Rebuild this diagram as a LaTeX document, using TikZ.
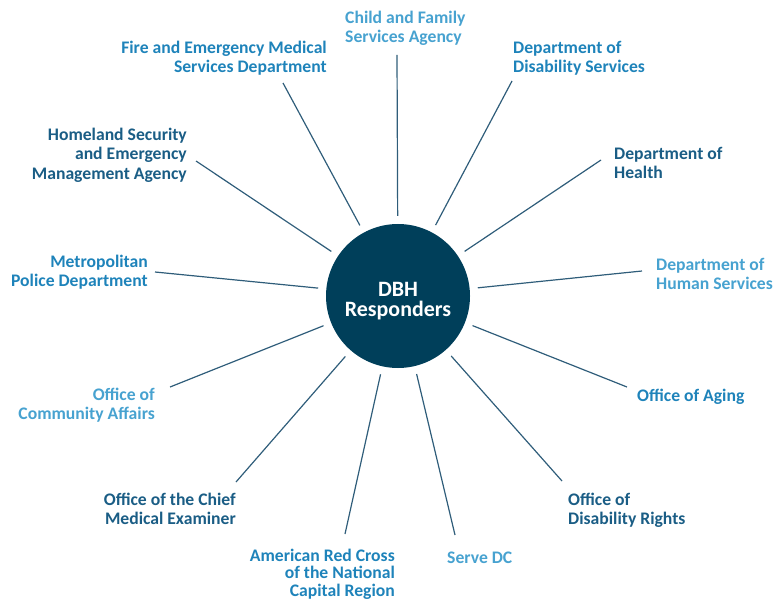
\documentclass[tikz,border=0pt]{standalone}
\usepackage{fontspec}
\setmainfont{Carlito}
\definecolor{hubfill}{HTML}{003F5A}
\definecolor{spoke}{HTML}{2F5D7A}
\definecolor{darkteal}{HTML}{1A5D85}
\definecolor{midblue}{HTML}{1E83BA}
\definecolor{lightblue}{HTML}{47A2D0}
\begin{document}
\begin{tikzpicture}[x=1bp,y=-1bp,
  agency/.style={inner sep=0pt, font=\fontsize{17.7}{19.3}\selectfont\bfseries,
                 execute at begin node=\strut},
  leftlab/.style={agency, anchor=north west, align=left},
  rightlab/.style={agency, anchor=north east, align=right},
  dark/.style={text=darkteal},
  mid/.style={text=midblue},
  light/.style={text=lightblue},
  spokeline/.style={draw=spoke, line width=1.2bp, shorten >=8bp}]
\useasboundingbox (0,0) rectangle (773,602);

% central hub
\node[circle, fill=hubfill, minimum size=144bp, inner sep=0pt] (hub) at (398,296) {};
\node[text=white, align=center, inner sep=0pt,
      font=\fontsize{22}{20.5}\selectfont\bfseries] (hublabel) at (398,301)
  {DBH\\Responders};

% agency labels (position = first baseline minus strut height)
\node[leftlab, light]  (child)    at (345, 11)  {Child and Family\\Services Agency};
\node[rightlab, mid]   (fire)     at (327, 41)  {Fire and Emergency Medical\\Services Department};
\node[leftlab, mid]    (disserv)  at (513, 41)  {Department of\\Disability Services};
\node[rightlab, dark]  (homeland) at (187,128)  {Homeland Security\\and Emergency \\Management Agency};
\node[leftlab, dark]   (health)   at (614,147)  {Department of\\Health};
\node[rightlab, mid]   (metro)    at (148,255)  {Metropolitan\\Police Department};
\node[leftlab, light]  (human)    at (656,258)  {Department of\\Human Services};
\node[rightlab, light] (commun)   at (155,388)  {Office of\\Community Affairs};
\node[leftlab, mid]    (aging)    at (637,388)  {Office of Aging};
\node[rightlab, dark]  (chief)    at (236,493)  {Office of the Chief\\Medical Examiner};
\node[leftlab, dark]   (rights)   at (568,493)  {Office of\\Disability Rights};
\node[rightlab, mid, font=\fontsize{17.7}{17.6}\selectfont\bfseries]
                       (redcross) at (395,548.7) {American Red Cross\\of the National \\Capital Region};
\node[leftlab, light]  (serve)    at (447,550)  {Serve DC};

% outer ends of the spokes
\coordinate (pchild)    at (397, 55);
\coordinate (pfire)     at (283, 83);
\coordinate (pdisserv)  at (512, 81);
\coordinate (phomeland) at (196,161);
\coordinate (phealth)   at (601,160);
\coordinate (pmetro)    at (155,272);
\coordinate (phuman)    at (642,271);
\coordinate (pcommun)   at (170,387);
\coordinate (paging)    at (627,387);
\coordinate (pchief)    at (236,482);
\coordinate (prights)   at (562,481);
\coordinate (predcross) at (345,534);
\coordinate (pserve)    at (455,535);

\foreach \p in {pchild,pfire,pdisserv,phomeland,phealth,pmetro,phuman,
                pcommun,paging,pchief,prights,predcross,pserve}
  \draw[spokeline] (\p) -- (hub);
\end{tikzpicture}
\end{document}
